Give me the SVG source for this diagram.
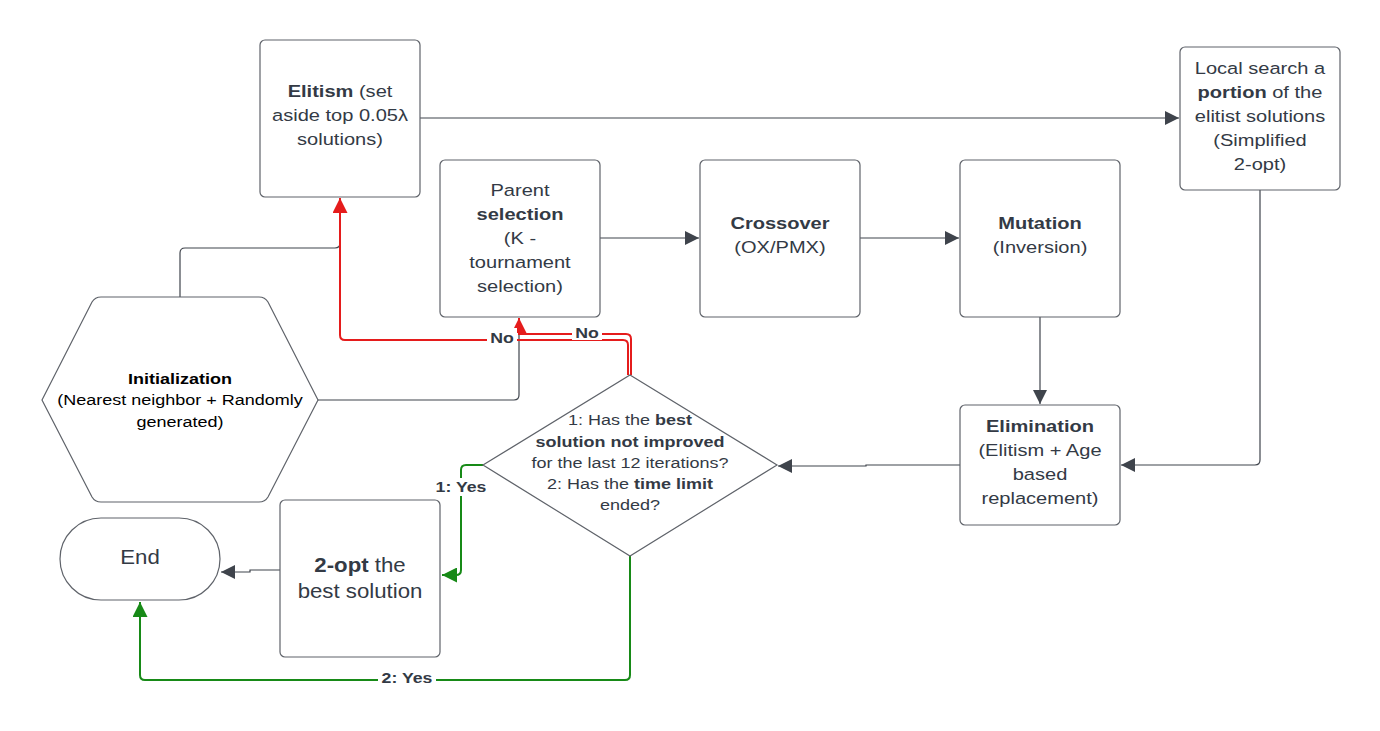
<svg xmlns="http://www.w3.org/2000/svg" width="1380" height="731" viewBox="0 0 1380 731">
<style>
.box{fill:#fff;stroke:#5f636a;stroke-width:1.2}
.t{font-family:"Liberation Sans",Arial,sans-serif;font-size:17px;fill:#333a45;text-anchor:middle}
.ts{font-family:"Liberation Sans",Arial,sans-serif;font-size:15px;fill:#333a45;text-anchor:middle}
.tk{font-family:"Liberation Sans",Arial,sans-serif;font-size:15px;fill:#000;text-anchor:middle}
.tl{font-family:"Liberation Sans",Arial,sans-serif;font-size:19.5px;fill:#333a45;text-anchor:middle}
.b{font-weight:bold}
.c{fill:none;stroke:#3f444c;stroke-width:1.2}
.r{fill:none;stroke:#e51c1c;stroke-width:2}
.g{fill:none;stroke:#178a17;stroke-width:2}
.lab{font-family:"Liberation Sans",Arial,sans-serif;font-size:15px;font-weight:bold;fill:#333a45;text-anchor:middle}
.lbg{fill:#fff}
</style>
<defs>
<marker id="ad" viewBox="0 0 10 10" refX="10" refY="5" markerWidth="14" markerHeight="14" markerUnits="userSpaceOnUse" orient="auto"><path d="M0,0 L10,5 L0,10 z" fill="#3f444c"/></marker>
<marker id="ar" viewBox="0 0 10 10" refX="10" refY="5" markerWidth="15" markerHeight="15" markerUnits="userSpaceOnUse" orient="auto"><path d="M0,0 L10,5 L0,10 z" fill="#e51c1c"/></marker>
<marker id="ag" viewBox="0 0 10 10" refX="10" refY="5" markerWidth="15" markerHeight="15" markerUnits="userSpaceOnUse" orient="auto"><path d="M0,0 L10,5 L0,10 z" fill="#178a17"/></marker>
</defs>
<rect width="1380" height="731" fill="#fff"/>

<g id="connectors">
<path class="c" d="M420,118 H1179" marker-end="url(#ad)"/>
<path class="c" d="M600,238 H699" marker-end="url(#ad)"/>
<path class="c" d="M860,238 H959" marker-end="url(#ad)"/>
<path class="c" d="M1040,317 V404" marker-end="url(#ad)"/>
<path class="c" d="M1260,190 V460 Q1260,465 1255,465 H1121" marker-end="url(#ad)"/>
<path class="c" d="M960,465 H866 V466 H778" marker-end="url(#ad)"/>
<path class="c" d="M180,297 V253 Q180,248 185,248 H335 Q340,248 340,243 V200"/>
<path class="c" d="M318,400 H514 Q519,400 519,395 V320"/>
<path class="c" d="M280,570 H250 V572 H221" marker-end="url(#ad)"/>
<path class="r" d="M628,375 V345 Q628,340 623,340 H345 Q340,340 340,335 V198" marker-end="url(#ar)"/>
<path class="r" d="M631,375 V339 Q631,334 626,334 H519 V318" marker-end="url(#ar)"/>
<path class="g" d="M483,465 H466 Q461,465 461,470 V570 Q461,575 456,575 H442" marker-end="url(#ag)"/>
<path class="g" d="M630,556 V675 Q630,680 625,680 H145 Q140,680 140,675 V602" marker-end="url(#ag)"/>
<rect class="lbg" x="487" y="328" width="30" height="18"/>
<text class="lab" x="502" y="343" transform="matrix(1.18,0,0,1,-90.36,0)">No</text>
<rect class="lbg" x="572" y="323" width="30" height="17"/>
<text class="lab" x="587" y="338" transform="matrix(1.18,0,0,1,-105.66,0)">No</text>
<rect class="lbg" x="433" y="478" width="56" height="18"/>
<text class="lab" x="461" y="492" transform="matrix(1.18,0,0,1,-82.98,0)">1: Yes</text>
<rect class="lbg" x="378" y="670" width="58" height="18"/>
<text class="lab" x="407" y="683" transform="matrix(1.18,0,0,1,-73.26,0)">2: Yes</text>
</g>

<g id="elitism">
<rect class="box" x="260" y="40" width="160" height="157" rx="5"/>
<g transform="matrix(1.18,0,0,1,-61.2,0)">
<text class="t" x="340" y="97"><tspan class="b">Elitism</tspan> (set</text>
<text class="t" x="340" y="121">aside top 0.05λ</text>
<text class="t" x="340" y="145">solutions)</text>
</g>
</g>

<g id="parent-selection">
<rect class="box" x="440" y="160" width="160" height="157" rx="5"/>
<g transform="matrix(1.18,0,0,1,-93.6,0)">
<text class="t" x="520" y="196">Parent</text>
<text class="t b" x="520" y="220">selection</text>
<text class="t" x="520" y="244">(K -</text>
<text class="t" x="520" y="268">tournament</text>
<text class="t" x="520" y="292">selection)</text>
</g>
</g>

<g id="crossover">
<rect class="box" x="700" y="160" width="160" height="157" rx="5"/>
<g transform="matrix(1.18,0,0,1,-140.4,0)">
<text class="t b" x="780" y="229">Crossover</text>
<text class="t" x="780" y="253">(OX/PMX)</text>
</g>
</g>

<g id="mutation">
<rect class="box" x="960" y="160" width="160" height="157" rx="5"/>
<g transform="matrix(1.18,0,0,1,-187.2,0)">
<text class="t b" x="1040" y="229">Mutation</text>
<text class="t" x="1040" y="253">(Inversion)</text>
</g>
</g>

<g id="local-search">
<rect class="box" x="1180" y="47" width="160" height="143" rx="5"/>
<g transform="matrix(1.18,0,0,1,-226.8,0)">
<text class="t" x="1260" y="74">Local search a</text>
<text class="t" x="1260" y="98"><tspan class="b">portion</tspan> of the</text>
<text class="t" x="1260" y="122">elitist solutions</text>
<text class="t" x="1260" y="146">(Simplified</text>
<text class="t" x="1260" y="170">2-opt)</text>
</g>
</g>

<g id="elimination">
<rect class="box" x="960" y="405" width="160" height="120" rx="5"/>
<g transform="matrix(1.18,0,0,1,-187.2,0)">
<text class="t b" x="1040" y="432">Elimination</text>
<text class="t" x="1040" y="456">(Elitism + Age</text>
<text class="t" x="1040" y="480">based</text>
<text class="t" x="1040" y="504">replacement)</text>
</g>
</g>

<g id="decision">
<path class="box" d="M630,375 L777,465 L630,556 L483,465 Z"/>
<g transform="matrix(1.2,0,0,1,-126,0)">
<text class="ts" x="630" y="425">1: Has the <tspan class="b">best</tspan></text>
<text class="ts b" x="630" y="447">solution not improved</text>
<text class="ts" x="630" y="468">for the last 12 iterations?</text>
<text class="ts" x="630" y="489">2: Has the <tspan class="b">time limit</tspan></text>
<text class="ts" x="630" y="510">ended?</text>
</g>
</g>

<g id="initialization">
<path class="box" d="M42,400 L92,302 Q95,297 101,297 L259,297 Q265,297 268,302 L318,400 L268,497 Q265,502 259,502 L101,502 Q95,502 92,497 Z"/>
<g transform="matrix(1.2,0,0,1,-36,0)">
<text class="tk b" x="180" y="384">Initialization</text>
<text class="tk" x="180" y="405">(Nearest neighbor + Randomly</text>
<text class="tk" x="180" y="427">generated)</text>
</g>
</g>

<g id="two-opt">
<rect class="box" x="280" y="500" width="160" height="157" rx="5"/>
<g transform="matrix(1.14,0,0,1,-50.4,0)">
<text class="tl" x="360" y="572"><tspan class="b">2-opt</tspan> the</text>
<text class="tl" x="360" y="598">best solution</text>
</g>
</g>

<g id="end">
<rect class="box" x="60" y="518" width="160" height="82" rx="41"/>
<text class="tl" x="140" y="564" transform="matrix(1.14,0,0,1,-19.6,0)">End</text>
</g>
</svg>
